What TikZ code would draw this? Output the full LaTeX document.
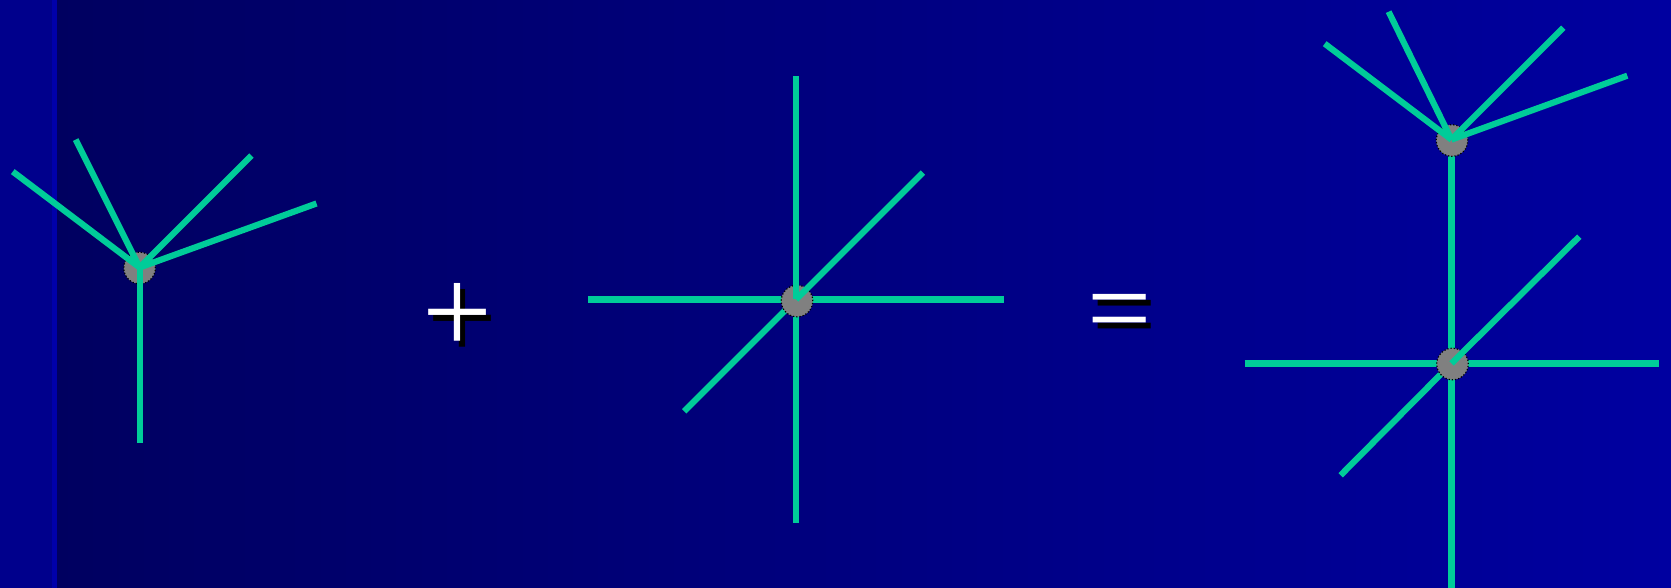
\documentclass[tikz,border=0pt]{standalone}
\usepackage{fontspec}
\setmainfont{Liberation Serif}
\definecolor{edgegreen}{RGB}{0,204,153}
\definecolor{stripblue}{RGB}{0,0,140}
\definecolor{stripelight}{RGB}{0,0,170}
\definecolor{bgleft}{RGB}{0,0,96}
\definecolor{bgright}{RGB}{0,0,160}
\definecolor{vtxgray}{RGB}{128,128,128}
\begin{document}
\begin{tikzpicture}[x=0.5pt,y=-0.5pt,
  edge/.style={draw=edgegreen, line width=3.1pt},
  vtx/.style={circle, fill=vtxgray, draw=black, densely dotted, line width=0.6pt, minimum size=15.8pt, inner sep=0pt},
  plussymb/.style={text=white, font=\fontsize{62}{64}\selectfont, inner sep=0pt, anchor=base},
  plusshadow/.style={plussymb, text=black},
  eqsymb/.style={text=white, font=\fontsize{57}{60}\selectfont, inner sep=0pt, anchor=base},
  eqshadow/.style={eqsymb, text=black}]
\useasboundingbox (0,0) rectangle (1671,588);
\fill[stripblue] (0,0) rectangle (57,588);
\shade[left color=bgleft, right color=bgright] (55,0) rectangle (1671,588);
\fill[stripelight] (52,0) rectangle (57,588);

% left graph
\coordinate (L) at (139.6,267.5);
\coordinate (L1) at (12.8,171.6);
\coordinate (L2) at (75.7,139.6);
\coordinate (L3) at (251.5,155.6);
\coordinate (L4) at (316.5,203.5);
\coordinate (L5) at (139.6,443.3);
\node[vtx] (Lv) at (139.6,268) {};
\draw[edge] (L) -- (L1);
\draw[edge] (L) -- (L2);
\draw[edge] (L) -- (L3);
\draw[edge] (L) -- (L4);
\draw[edge] (L) -- (L5);

% plus
\node[plusshadow] (plusS) at (462.5,359) {+};
\node[plussymb] (plus) at (457.5,354) {+};

% middle graph
\coordinate (M) at (796,299.5);
\coordinate (M1) at (796,75.7);
\coordinate (M2) at (796,523.3);
\coordinate (M3) at (588.3,299.5);
\coordinate (M4) at (1003.9,299.5);
\coordinate (M5) at (922.9,172.6);
\coordinate (M6) at (684.2,411.4);
\draw[edge] (M) -- (M2);
\draw[edge] (M3) -- (M4);
\draw[edge] (M) -- (M6);
\node[vtx] (Mv) at (797,301) {};
\draw[edge] (M) -- (M1);
\draw[edge] (M) -- (M5);

% equals
\node[eqshadow] (eqS) at (1124.5,352) {=};
\node[eqsymb] (eq) at (1120,347) {=};

% right graph
\coordinate (R) at (1451.5,139.6);
\coordinate (R1) at (1324.7,43.7);
\coordinate (R2) at (1388.6,11.7);
\coordinate (R3) at (1563.4,27.7);
\coordinate (R4) at (1627.3,75.7);
\coordinate (S) at (1451.5,363.4);
\coordinate (S1) at (1451.5,600);
\coordinate (S2) at (1244.7,363.4);
\coordinate (S3) at (1659.3,363.4);
\coordinate (S4) at (1579.3,236.6);
\coordinate (S5) at (1340.6,475.3);
\draw[edge] (R) -- (S);
\draw[edge] (S) -- (S1);
\draw[edge] (S2) -- (S3);
\draw[edge] (S) -- (S5);
\node[vtx] (Rv) at (1452,140.5) {};
\node[vtx] (Sv) at (1452.5,364) {};
\draw[edge] (R) -- (R1);
\draw[edge] (R) -- (R2);
\draw[edge] (R) -- (R3);
\draw[edge] (R) -- (R4);
\draw[edge] (S) -- (S4);
\end{tikzpicture}
\end{document}
